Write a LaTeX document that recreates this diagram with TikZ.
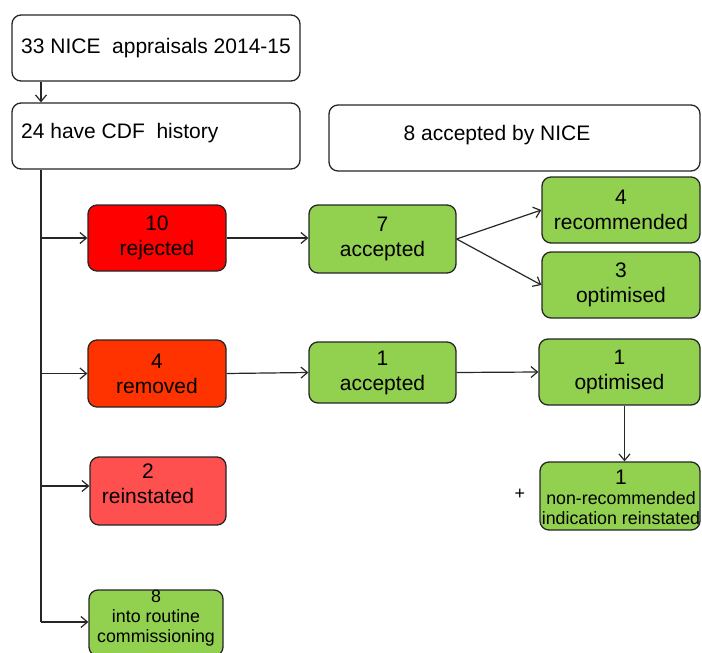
\documentclass[tikz,border=0pt]{standalone}
\usepackage{fontspec}
\setmainfont{Liberation Sans}
\usetikzlibrary{arrows.meta}
\definecolor{boxline}{HTML}{262626}
\definecolor{cred}{HTML}{FF0000}
\definecolor{corange}{HTML}{FF3300}
\definecolor{cpink}{HTML}{FF5050}
\definecolor{cgreen}{HTML}{92D050}
\begin{document}
\begin{tikzpicture}[x=1pt,y=-1pt,
  box/.style={draw=boxline, line width=1.3pt, rounded corners=9pt, inner sep=0pt, align=center,
              font=\fontsize{21}{25}\selectfont, text=black},
  smalltxt/.style={font=\fontsize{17.8}{20}\selectfont, align=center, inner sep=0pt, text=black},
  bigtxt/.style={font=\fontsize{21}{25}\selectfont, align=center, inner sep=0pt, text=black},
  arr/.style={draw=boxline, line width=1.2pt, -{Straight Barb[length=6.5pt,width=11pt,line width=1.2pt]}},
  ln/.style={draw=boxline, line width=1.2pt}]
\useasboundingbox (0,0) rectangle (702,653);

% top boxes
\node[box, fill=white, minimum width=288pt, minimum height=66pt] (A) at (156,48) {};
\node[bigtxt, anchor=west] (Atxt) at (21,48) {33 NICE\ \ appraisals 2014-15};
\node[box, fill=white, minimum width=288pt, minimum height=66pt] (B) at (156,136) {};
\node[bigtxt, anchor=west] (Btxt) at (21,133) {24 have CDF\ \ history};
\node[box, fill=white, minimum width=371pt, minimum height=66pt] (C) at (514.5,138) {};
\node[bigtxt] (Ctxt) at (497,135) {8 accepted by NICE};

% left column
\node[box, fill=cred, minimum width=138pt, minimum height=66pt] (rej) at (157,238) {10\\rejected};
\node[box, fill=corange, minimum width=138pt, minimum height=67pt] (rem) at (157,373.5) {4\\removed};
\node[box, fill=cpink, minimum width=136pt, minimum height=68pt] (rein) at (158,491) {};
\node[bigtxt] (reintxt) at (148,484) {2\\reinstated};
\node[box, fill=cgreen, minimum width=134pt, minimum height=66pt] (rout) at (156,623) {};
\node[smalltxt] (routtxt) at (156,618) {8\\into routine\\commissioning};

% middle column
\node[box, fill=cgreen, minimum width=147pt, minimum height=68pt] (acc7) at (382.5,239) {7\\accepted};
\node[box, fill=cgreen, minimum width=147pt, minimum height=61pt] (acc1) at (382.5,372.5) {1\\accepted};

% right column
\node[box, fill=cgreen, minimum width=158pt, minimum height=66pt] (rec4) at (621,210) {4\\recommended};
\node[box, fill=cgreen, minimum width=158pt, minimum height=66pt] (opt3) at (621,285) {3\\optimised};
\node[box, fill=cgreen, minimum width=161pt, minimum height=66pt] (opt1) at (619.5,372) {1\\optimised};
\node[box, fill=cgreen, minimum width=160pt, minimum height=68pt] (nonrec) at (620,496) {};
\node[smalltxt] (nonrectxt) at (621,497) {\fontsize{21}{20}\selectfont 1\\non-recommended\\indication reinstated};
\node[font=\fontsize{18}{18}\selectfont, inner sep=0pt, text=black] (plus) at (520,494) {+};

% trunk
\coordinate (t0) at (41,169);
\coordinate (t1) at (41,238);
\coordinate (t2) at (41,373.5);
\coordinate (t3) at (41,486);
\coordinate (t4) at (41,622);

\draw[arr] (A.south -| t0) -- (B.north -| t0);
\draw[ln] (B.south -| t0) -- (t4);
\draw[arr] (t1) -- (rej.west);
\draw[arr] (t2) -- (rem.west);
\draw[arr] (t3) -- (t3 -| rein.west);
\draw[arr] (t4) -- (t4 -| rout.west);

\draw[arr] (rej.east) -- (rej.east -| acc7.west);
\draw[arr] (rem.east) -- (acc1.west);
\draw[arr] (acc1.east) -- (opt1.west);
\draw[arr] (acc7.east) -- (rec4.west);
\draw[arr] (acc7.east) -- (opt3.west);
\draw[arr] ([xshift=5pt]opt1.south) -- ([xshift=5pt]opt1.south |- nonrec.north);
\end{tikzpicture}
\end{document}
